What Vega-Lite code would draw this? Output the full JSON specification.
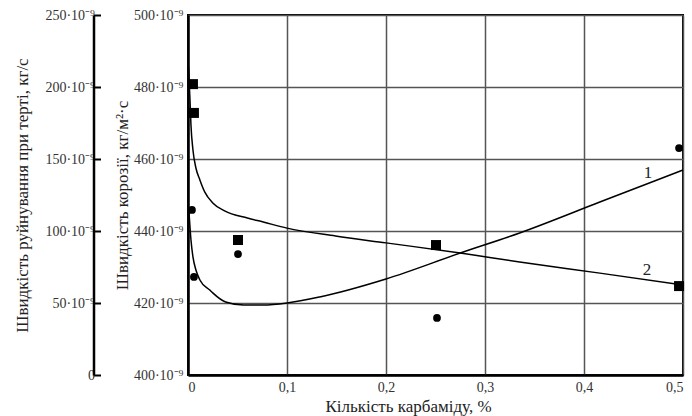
{
  "$schema": "https://vega.github.io/schema/vega-lite/v6.json",
  "width": 495,
  "height": 360,
  "autosize": "none",
  "padding": {"left": 188, "top": 15, "right": 9, "bottom": 41},
  "background": "white",
  "config": {
    "font": "Times New Roman, Liberation Serif, serif",
    "view": {"stroke": "black", "strokeWidth": 2},
    "text": {"font": "Times New Roman, Liberation Serif, serif"},
    "axis": {
      "labelFont": "Times New Roman, Liberation Serif, serif",
      "titleFont": "Times New Roman, Liberation Serif, serif",
      "labelColor": "#333",
      "titleColor": "#222",
      "titleFontWeight": "normal",
      "domainColor": "black",
      "tickColor": "black"
    }
  },
  "datasets": {
    "c2": [
      {"x": 0.0005, "v": 485.6},
      {"x": 0.002, "v": 476.4},
      {"x": 0.003, "v": 469.4},
      {"x": 0.005, "v": 462.5},
      {"x": 0.008, "v": 457.5},
      {"x": 0.012, "v": 454.2},
      {"x": 0.017, "v": 450.8},
      {"x": 0.025, "v": 447.8},
      {"x": 0.037, "v": 445.6},
      {"x": 0.06, "v": 443.6},
      {"x": 0.076, "v": 442.5},
      {"x": 0.1, "v": 440.8},
      {"x": 0.149, "v": 438.6},
      {"x": 0.2, "v": 436.7},
      {"x": 0.275, "v": 433.9},
      {"x": 0.335, "v": 431.4},
      {"x": 0.416, "v": 428.3},
      {"x": 0.5, "v": 425.0}
    ],
    "s2": [
      {"x": 0.005, "v": 480.8},
      {"x": 0.006, "v": 472.8},
      {"x": 0.0505, "v": 437.5},
      {"x": 0.2505, "v": 436.1},
      {"x": 0.496, "v": 424.7}
    ],
    "lbl": [
      {"x": 0.4646, "v": 456.1, "t": "1"},
      {"x": 0.4636, "v": 429.2, "t": "2"}
    ],
    "c1": [
      {"x": 0.001, "u": 113.2},
      {"x": 0.003, "u": 93.75},
      {"x": 0.005, "u": 82.0},
      {"x": 0.008, "u": 72.9},
      {"x": 0.012, "u": 66.0},
      {"x": 0.022, "u": 59.0},
      {"x": 0.025, "u": 57.0},
      {"x": 0.038, "u": 50.7},
      {"x": 0.056, "u": 48.6},
      {"x": 0.076, "u": 48.6},
      {"x": 0.1, "u": 50.0},
      {"x": 0.133, "u": 54.2},
      {"x": 0.2, "u": 66.7},
      {"x": 0.275, "u": 84.7},
      {"x": 0.335, "u": 98.6},
      {"x": 0.416, "u": 120.1},
      {"x": 0.5, "u": 142.4}
    ],
    "p1": [
      {"x": 0.004, "u": 114.6},
      {"x": 0.006, "u": 68.1},
      {"x": 0.0505, "u": 84.0},
      {"x": 0.2515, "u": 39.6},
      {"x": 0.496, "u": 157.6}
    ]
  },
  "encoding": {
    "x": {
      "field": "x",
      "type": "quantitative",
      "scale": {"domain": [0, 0.5], "nice": false, "zero": false},
      "axis": {
        "values": [0, 0.1, 0.2, 0.3, 0.4, 0.5],
        "labelExpr": "datum.value == 0 ? '0' : replace(format(datum.value, '.1f'), '.', ',')",
        "labelFontSize": 14,
        "labelPadding": 5,
        "tickSize": 0,
        "domainWidth": 2.5,
        "grid": true,
        "gridColor": "#555",
        "gridWidth": 1.5,
        "gridOpacity": 1,
        "title": "Кількість карбаміду, %",
        "titleFontSize": 17,
        "titleX": 220,
        "titleY": 23,
        "titleBaseline": "top"
      }
    }
  },
  "layer": [
    {
      "layer": [
        {
          "data": {"name": "c2"},
          "mark": {"type": "line", "color": "black", "strokeWidth": 1.5, "interpolate": "monotone"},
          "encoding": {
            "y": {
              "field": "v",
              "type": "quantitative",
              "scale": {"domain": [400, 500], "nice": false, "zero": false},
              "axis": {
                "orient": "left",
                "values": [400, 420, 440, 460, 480, 500],
                "labelExpr": "datum.value + '·10⁻⁹'",
                "labelFontSize": 14,
                "labelPadding": 5,
                "tickSize": 0,
                "domainWidth": 2.5,
                "grid": true,
                "gridColor": "#555",
                "gridWidth": 1.5,
                "gridOpacity": 1,
                "title": "Швидкість корозії, кг/м²·с",
                "titleFontSize": 17,
                "titleX": -66,
                "titleBaseline": "middle"
              }
            }
          }
        },
        {
          "data": {"name": "s2"},
          "mark": {"type": "square", "color": "black", "filled": true, "size": 100, "opacity": 1},
          "encoding": {"y": {"field": "v", "type": "quantitative"}}
        },
        {
          "data": {"name": "lbl"},
          "mark": {"type": "text", "fontSize": 17, "color": "#222"},
          "encoding": {"y": {"field": "v", "type": "quantitative"}, "text": {"field": "t"}}
        }
      ]
    },
    {
      "layer": [
        {
          "data": {"name": "c1"},
          "mark": {"type": "line", "color": "black", "strokeWidth": 1.5, "interpolate": "monotone"},
          "encoding": {
            "y": {
              "field": "u",
              "type": "quantitative",
              "scale": {"domain": [0, 250], "nice": false},
              "axis": {
                "orient": "left",
                "offset": 94.5,
                "values": [0, 50, 100, 150, 200, 250],
                "labelExpr": "datum.value == 0 ? '0' : datum.value + '·10⁻⁹'",
                "labelFontSize": 14,
                "labelPadding": 6,
                "tickSize": -7,
                "tickWidth": 2,
                "domainWidth": 2.5,
                "grid": false,
                "title": "Швидкість руйнування при терті, кг/с",
                "titleFontSize": 17,
                "titleX": -71.5,
                "titleBaseline": "middle"
              }
            }
          }
        },
        {
          "data": {"name": "p1"},
          "mark": {"type": "circle", "color": "black", "size": 60, "opacity": 1},
          "encoding": {"y": {"field": "u", "type": "quantitative"}}
        }
      ]
    }
  ],
  "resolve": {"scale": {"y": "independent"}}
}
